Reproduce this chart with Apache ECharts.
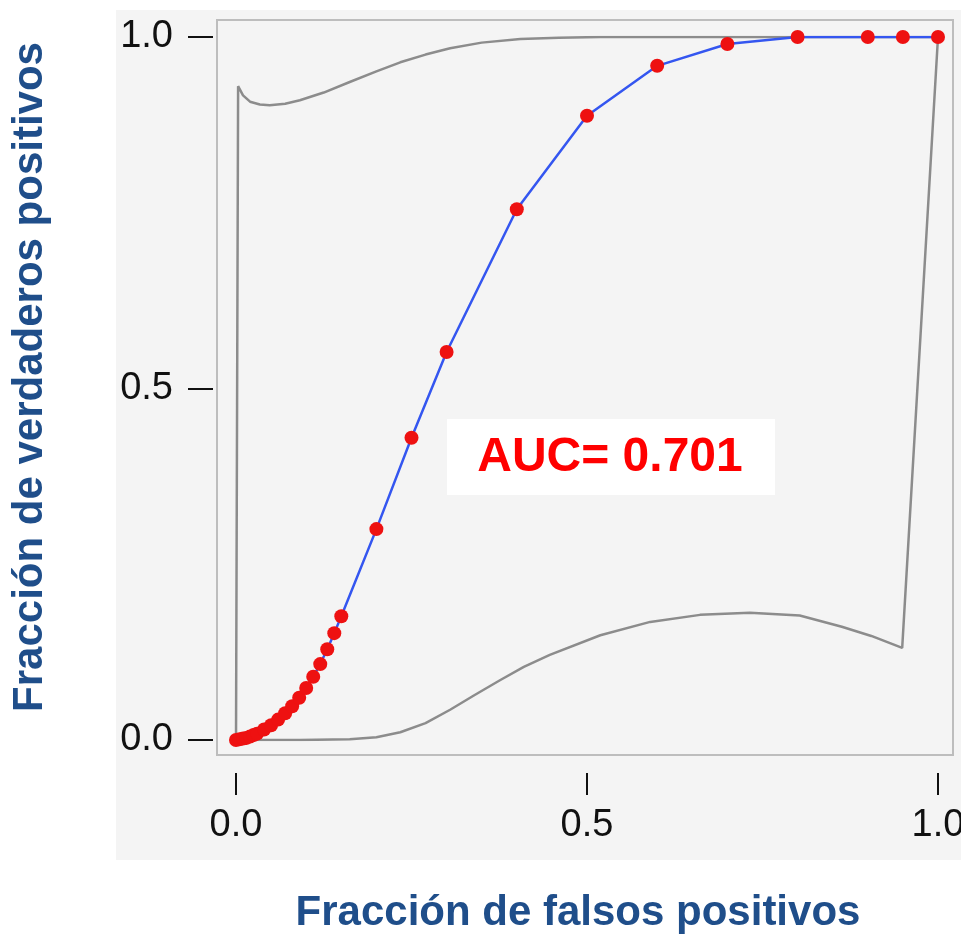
<!DOCTYPE html>
<html>
<head>
<meta charset="utf-8">
<script src="https://cdn.jsdelivr.net/npm/echarts@6/dist/echarts.min.js"></script>
<style>html,body{margin:0;padding:0;background:#fff;overflow:hidden}#c{width:961px;height:938px}</style>
</head>
<body>
<div id="c"></div>
<script>
// ROC curve points (false positive fraction, true positive fraction)
const rocFPF = [0, 0.005, 0.01, 0.015, 0.02, 0.025, 0.03, 0.04, 0.05, 0.06, 0.07, 0.08, 0.09, 0.10, 0.11, 0.12, 0.13, 0.14, 0.15, 0.20, 0.25, 0.30, 0.40, 0.50, 0.60, 0.70, 0.80, 0.90, 0.95, 1.0];
const rocTPF = [0, 0.001, 0.002, 0.003, 0.005, 0.007, 0.009, 0.015, 0.021, 0.029, 0.038, 0.048, 0.060, 0.074, 0.090, 0.108, 0.129, 0.152, 0.176, 0.300, 0.430, 0.552, 0.755, 0.888, 0.959, 0.990, 1.0, 1.0, 1.0, 1.0];
// Confidence band outline (closed path)
const bandX = [0, 0.003, 0.010, 0.020, 0.034, 0.048, 0.070, 0.091, 0.125, 0.162, 0.200, 0.234, 0.270, 0.305, 0.350, 0.405, 0.460, 0.519, 0.70, 1.0, 0.949, 0.905, 0.863, 0.803, 0.732, 0.661, 0.590, 0.519, 0.447, 0.410, 0.376, 0.340, 0.305, 0.270, 0.234, 0.200, 0.162, 0.091, 0];
const bandY = [0, 0.930, 0.917, 0.908, 0.904, 0.903, 0.905, 0.910, 0.921, 0.936, 0.951, 0.964, 0.975, 0.984, 0.992, 0.997, 0.999, 1.0, 1.0, 1.0, 0.131, 0.148, 0.161, 0.177, 0.181, 0.178, 0.168, 0.149, 0.121, 0.104, 0.085, 0.064, 0.043, 0.024, 0.011, 0.004, 0.001, 0, 0];
const tickValues = [0, 0.5, 1.0];
const aucText = 'AUC= 0.701';
const xTitle = 'Fracción de falsos positivos';
const yTitle = 'Fracción de verdaderos positivos';

const chart = echarts.init(document.getElementById('c'), null, {renderer: 'canvas'});
const titleColor = '#1f4e8a';
const fmt = v => v.toFixed(1);
chart.setOption({
  animation: false,
  backgroundColor: '#ffffff',
  grid: {left: 236, right: 23, top: 37, bottom: 198, containLabel: false, outerBoundsMode: 'none'},
  xAxis: {
    type: 'value', min: 0, max: 1, interval: 0.5, offset: 33,
    axisLine: {show: false, onZero: false}, splitLine: {show: false},
    axisTick: {show: true, length: 22, lineStyle: {color: '#111', width: 2}},
    axisLabel: {fontFamily: 'Liberation Sans, Arial', fontSize: 38, color: '#111', margin: 34, formatter: fmt, hideOverlap: false}
  },
  yAxis: {
    type: 'value', min: 0, max: 1, interval: 0.5, offset: 23,
    axisLine: {show: false, onZero: false}, splitLine: {show: false},
    axisTick: {show: true, length: 25, lineStyle: {color: '#111', width: 2}},
    axisLabel: {fontFamily: 'Liberation Sans, Arial', fontSize: 38, color: '#111', margin: 40, formatter: fmt}
  },
  graphic: [
    {type: 'rect', z: -20, shape: {x: 116, y: 10, width: 845, height: 850}, style: {fill: '#f4f4f4'}},
    {type: 'rect', z: -19, shape: {x: 217, y: 20, width: 736, height: 735}, style: {fill: 'none', stroke: '#bdbdbd', lineWidth: 2}},
    {type: 'rect', z: 10, shape: {x: 447, y: 419, width: 328, height: 76}, style: {fill: '#ffffff'}},
    {type: 'text', z: 11, x: 610, y: 458, style: {text: aucText, fill: '#ff0000', font: 'bold 48px "Liberation Sans", Arial', textAlign: 'center', textVerticalAlign: 'middle'}},
    {type: 'text', z: 11, x: 578, y: 913, style: {text: xTitle, fill: titleColor, font: 'bold 42px "Liberation Sans", Arial', textAlign: 'center', textVerticalAlign: 'middle'}},
    {type: 'text', z: 11, x: 30, y: 377, rotation: Math.PI / 2, style: {text: yTitle, fill: titleColor, font: 'bold 42px "Liberation Sans", Arial', textAlign: 'center', textVerticalAlign: 'middle'}}
  ],
  series: [
    {
      type: 'line', z: 2, silent: true, showSymbol: false, symbol: 'none', smooth: false,
      lineStyle: {color: '#8c8c8c', width: 2.5},
      data: bandX.map((x, i) => [x, bandY[i]])
    },
    {
      type: 'line', z: 3, silent: true, symbol: 'circle', symbolSize: 14, showSymbol: true,
      lineStyle: {color: '#3456f0', width: 2.5},
      itemStyle: {color: '#ee1111', borderWidth: 0},
      data: rocFPF.map((x, i) => [x, rocTPF[i]])
    }
  ]
});
</script>
</body>
</html>
